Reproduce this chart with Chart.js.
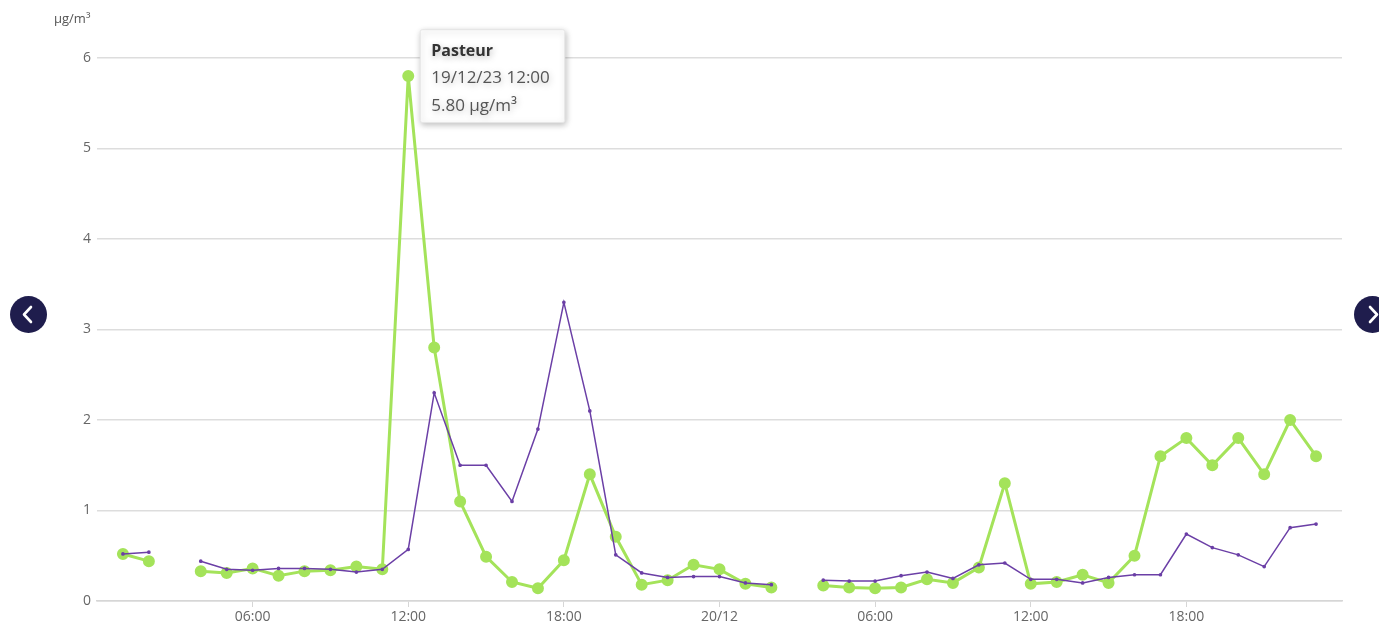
<!DOCTYPE html>
<html>
<head>
<meta charset="utf-8">
<script src="https://cdn.jsdelivr.net/npm/chart.js@4/dist/chart.umd.min.js"></script>
<style>
  html, body { margin: 0; padding: 0; background: #fff; overflow: hidden; }
  #wrap { position: relative; width: 1379px; height: 629px; }
  canvas { position: absolute; left: 0; top: 0; }
  .nav { position: absolute; width: 37px; height: 37px; border-radius: 50%; background: #1f1d4d; top: 296px; }
  .nav svg { position: absolute; left: 0; top: 0; }
  #prev { left: 10px; }
  #next { left: 1354px; }
</style>
</head>
<body>
<div id="wrap">
  <canvas id="c" width="1379" height="629"></canvas>
  <div class="nav" id="prev"><svg width="37" height="37"><polyline points="21,11 14,18.5 21,26" fill="none" stroke="#fff" stroke-width="2.6" stroke-linecap="round" stroke-linejoin="round"/></svg></div>
  <div class="nav" id="next"><svg width="37" height="37"><polyline points="16,11 23,18.5 16,26" fill="none" stroke="#fff" stroke-width="2.6" stroke-linecap="round" stroke-linejoin="round"/></svg></div>
</div>
<script>
// Hours since 19/12/23 00:00
const hours = [1,2,3,4,5,6,7,8,9,10,11,12,13,14,15,16,17,18,19,20,21,22,23,24,25,26,27,28,29,30,31,32,33,34,35,36,37,38,39,40,41,42,43,44,45,46,47];

const pasteurValues = [0.52,0.44,null,0.33,0.31,0.36,0.28,0.33,0.34,0.38,0.35,5.80,2.80,1.10,0.49,0.21,0.14,0.45,1.40,0.71,0.18,0.23,0.40,0.35,0.19,0.15,null,0.17,0.15,0.14,0.15,0.24,0.20,0.37,1.30,0.19,0.21,0.29,0.20,0.50,1.60,1.80,1.50,1.80,1.40,2.00,1.60];

const otherValues = [0.52,0.54,null,0.44,0.35,0.34,0.36,0.36,0.35,0.32,0.35,0.57,2.30,1.50,1.50,1.10,1.90,3.30,2.10,0.51,0.31,0.26,0.27,0.27,0.20,0.18,null,0.23,0.22,0.22,0.28,0.32,0.25,0.40,0.42,0.24,0.24,0.20,0.26,0.29,0.29,0.74,0.59,0.51,0.38,0.81,0.85];

const xTickLabels = {6:'06:00',12:'12:00',18:'18:00',24:'20/12',30:'06:00',36:'12:00',42:'18:00'};
const yTicks = [0,1,2,3,4,5,6];
const unit = 'µg/m³';

const FONT = '"Open Sans", "Noto Sans", sans-serif';

const unitLabel = {
  id: 'unitLabel',
  afterDraw(chart) {
    const ctx = chart.ctx;
    ctx.save();
    ctx.font = '13px ' + FONT;
    ctx.fillStyle = '#555';
    ctx.textAlign = 'left';
    ctx.textBaseline = 'middle';
    ctx.fillText(unit, 54, 19);
    ctx.restore();
  }
};

const tooltipShadow = {
  id: 'tooltipShadow',
  beforeTooltipDraw(chart) {
    const ctx = chart.ctx;
    ctx.save();
    ctx.shadowColor = 'rgba(0,0,0,0.25)';
    ctx.shadowBlur = 6;
    ctx.shadowOffsetX = 1;
    ctx.shadowOffsetY = 2;
  },
  afterTooltipDraw(chart) {
    chart.ctx.restore();
  }
};

function pad(n) { return (n < 10 ? '0' : '') + n; }

const chart = new Chart(document.getElementById('c'), {
  type: 'line',
  data: {
    datasets: [
      {
        label: 'Station',
        data: hours.map((h, i) => ({x: h, y: otherValues[i]})),
        borderColor: '#6b3fa6',
        backgroundColor: '#6b3fa6',
        borderWidth: 1.5,
        pointRadius: 1.1,
        pointHoverRadius: 1.1,
        spanGaps: false,
        tension: 0
      },
      {
        label: 'Pasteur',
        data: hours.map((h, i) => ({x: h, y: pasteurValues[i]})),
        borderColor: '#a4e35a',
        backgroundColor: '#a4e35a',
        borderWidth: 3,
        pointRadius: 4.5,
        pointHoverRadius: 4.5,
        spanGaps: false,
        tension: 0
      }
    ]
  },
  plugins: [unitLabel, tooltipShadow],
  options: {
    responsive: false,
    animation: false,
    events: [],
    layout: { padding: { left: 0, right: 37, top: 58, bottom: 0 } },
    plugins: {
      legend: { display: false },
      tooltip: {
        enabled: true,
        backgroundColor: '#ffffff',
        borderColor: '#e6e6e6',
        borderWidth: 1,
        cornerRadius: 2,
        caretSize: 0,
        caretPadding: 12,
        xAlign: 'left',
        yAlign: 'center',
        padding: { left: 11, right: 15, top: 11, bottom: 3 },
        displayColors: false,
        titleColor: '#333',
        titleFont: { family: FONT, size: 16, weight: 'bold', lineHeight: 1.3 },
        titleMarginBottom: 4,
        bodyColor: '#555',
        bodyFont: { family: FONT, size: 17, lineHeight: 1.53 },
        callbacks: {
          title: (items) => items[0].dataset.label,
          label: (item) => {
            const h = item.parsed.x;
            const d = 19 + Math.floor(h / 24);
            return [d + '/12/23 ' + pad(h % 24) + ':00', item.parsed.y.toFixed(2) + ' ' + unit];
          }
        }
      }
    },
    scales: {
      x: {
        type: 'linear',
        min: 0,
        max: 48,
        afterFit: (s) => { s.height = 28; },
        afterBuildTicks: (s) => { s.ticks = Object.keys(xTickLabels).map(v => ({value: +v})); },
        ticks: {
          autoSkip: false,
          maxRotation: 0,
          color: '#666',
          font: { family: FONT, size: 14 },
          padding: 2,
          callback: (v) => xTickLabels[v] || ''
        },
        grid: {
          drawOnChartArea: false,
          drawTicks: true,
          tickLength: 6,
          tickColor: '#d6d6d6'
        },
        border: { display: true, color: '#d6d6d6', width: 1.5 }
      },
      y: {
        min: 0,
        max: 6,
        afterFit: (s) => { s.width = 97; },
        afterBuildTicks: (s) => { s.ticks = yTicks.map(v => ({value: v})); },
        ticks: {
          color: '#666',
          font: { family: FONT, size: 14 },
          padding: 6,
          callback: (v) => String(v)
        },
        grid: {
          color: '#dddddd',
          lineWidth: 1.5,
          drawTicks: false
        },
        border: { display: false }
      }
    }
  }
});

const el = chart.getDatasetMeta(1).data[11];
chart.tooltip.setActiveElements([{datasetIndex: 1, index: 11}], {x: el.x, y: el.y});
chart.update();
</script>
</body>
</html>
